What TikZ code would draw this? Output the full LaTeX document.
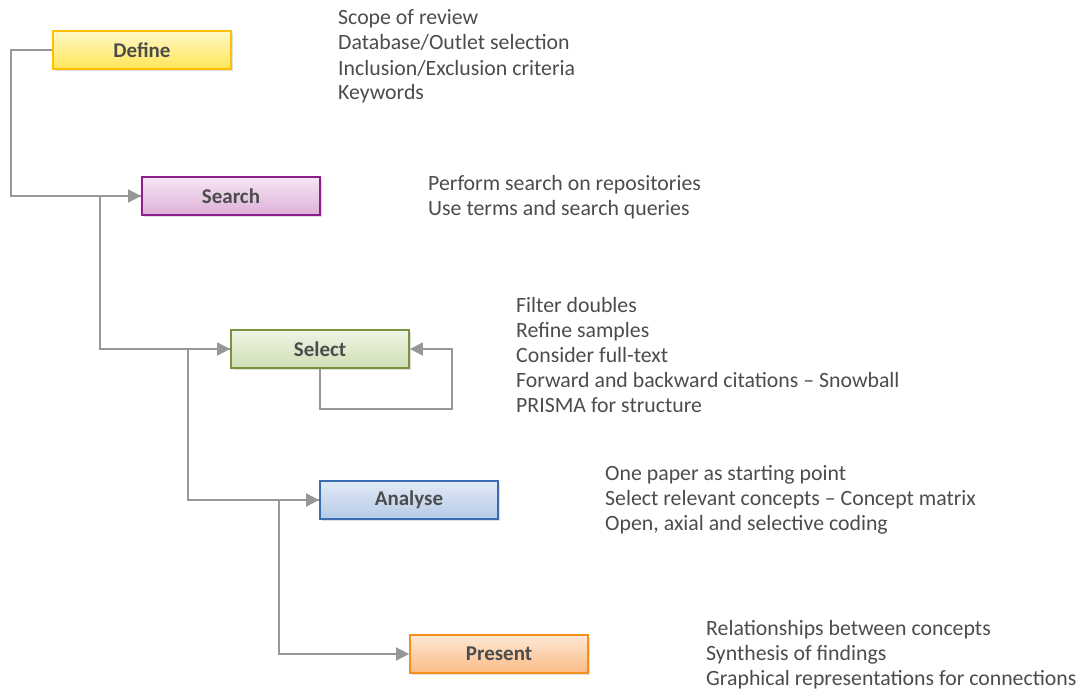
\documentclass[tikz,border=0pt]{standalone}
\usepackage{fontspec}
\setmainfont{Carlito}
\usetikzlibrary{arrows.meta,shadows}
\definecolor{txt}{HTML}{4C4C4C}
\definecolor{link}{HTML}{979797}
\definecolor{defD}{HTML}{FFC000}\definecolor{defT}{HTML}{FFF8C8}\definecolor{defB}{HTML}{FFE658}
\definecolor{seaD}{HTML}{8E1E8C}\definecolor{seaT}{HTML}{F6E6F4}\definecolor{seaB}{HTML}{DDB0D9}
\definecolor{selD}{HTML}{77933C}\definecolor{selT}{HTML}{EEF4E4}\definecolor{selB}{HTML}{CFDFB4}
\definecolor{anaD}{HTML}{3C6CB0}\definecolor{anaT}{HTML}{E2EAF6}\definecolor{anaB}{HTML}{B5CAE6}
\definecolor{preD}{HTML}{F5901E}\definecolor{preT}{HTML}{FDE8D6}\definecolor{preB}{HTML}{FBBB85}
\tikzset{
  stage/.style={draw, line width=1.8pt, minimum width=178pt, minimum height=38pt,
    inner sep=0pt, font=\fontsize{21}{24}\selectfont\bfseries, text=txt,
    drop shadow={opacity=0.25, shadow xshift=1.5pt, shadow yshift=-2pt}},
  notes/.style={anchor=base west, align=left, inner sep=0pt, text=txt,
    font=\fontsize{21.8}{25}\selectfont},
  flow/.style={draw=link, line width=1.8pt, -{Triangle[length=13pt,width=13pt]}}
}
\begin{document}
\begin{tikzpicture}[x=1pt,y=-1pt]
\useasboundingbox (0,0) rectangle (1083,693);
% stages
\node[stage, draw=defD, top color=defT, bottom color=defB] (define)  at (142,50)  {Define};
\node[stage, draw=seaD, top color=seaT, bottom color=seaB] (search)  at (231,196) {Search};
\node[stage, draw=selD, top color=selT, bottom color=selB] (select)  at (320,349) {Select};
\node[stage, draw=anaD, top color=anaT, bottom color=anaB] (analyse) at (409,500) {Analyse};
\node[stage, draw=preD, top color=preT, bottom color=preB] (present) at (499,654) {Present};
% connectors
\draw[flow] (define.west) -- ++(-41,0) |- (search.west);
\draw[flow] (search.west) -- ++(-41,0) |- (select.west);
\draw[flow] (select.west) -- ++(-42,0) |- (analyse.west);
\draw[flow] (analyse.west) -- ++(-40,0) |- (present.west);
\coordinate (loop) at (452,409);
\draw[flow] (select.south) |- (loop) |- (select.east);
% descriptions (baselines)
\node[notes] (tdef) at (338,25) {Scope of review};
\node[notes] at (338,50) {Database/Outlet selection};
\node[notes] at (338,75) {Inclusion/Exclusion criteria};
\node[notes] at (338,99) {Keywords};
\node[notes] (tsea) at (428,190) {Perform search on repositories};
\node[notes] at (428,215) {Use terms and search queries};
\node[notes] (tsel) at (516,312) {Filter doubles};
\node[notes] at (516,337) {Refine samples};
\node[notes] at (516,362) {Consider full-text};
\node[notes] at (516,387) {Forward and backward citations -- Snowball};
\node[notes] at (516,412) {PRISMA for structure};
\node[notes] (tana) at (605,480) {One paper as starting point};
\node[notes] at (605,505) {Select relevant concepts -- Concept matrix};
\node[notes] at (605,530) {Open, axial and selective coding};
\node[notes] (tpre) at (706,635) {Relationships between concepts};
\node[notes] at (706,660) {Synthesis of findings};
\node[notes] at (706,685) {Graphical representations for connections};
\end{tikzpicture}
\end{document}
